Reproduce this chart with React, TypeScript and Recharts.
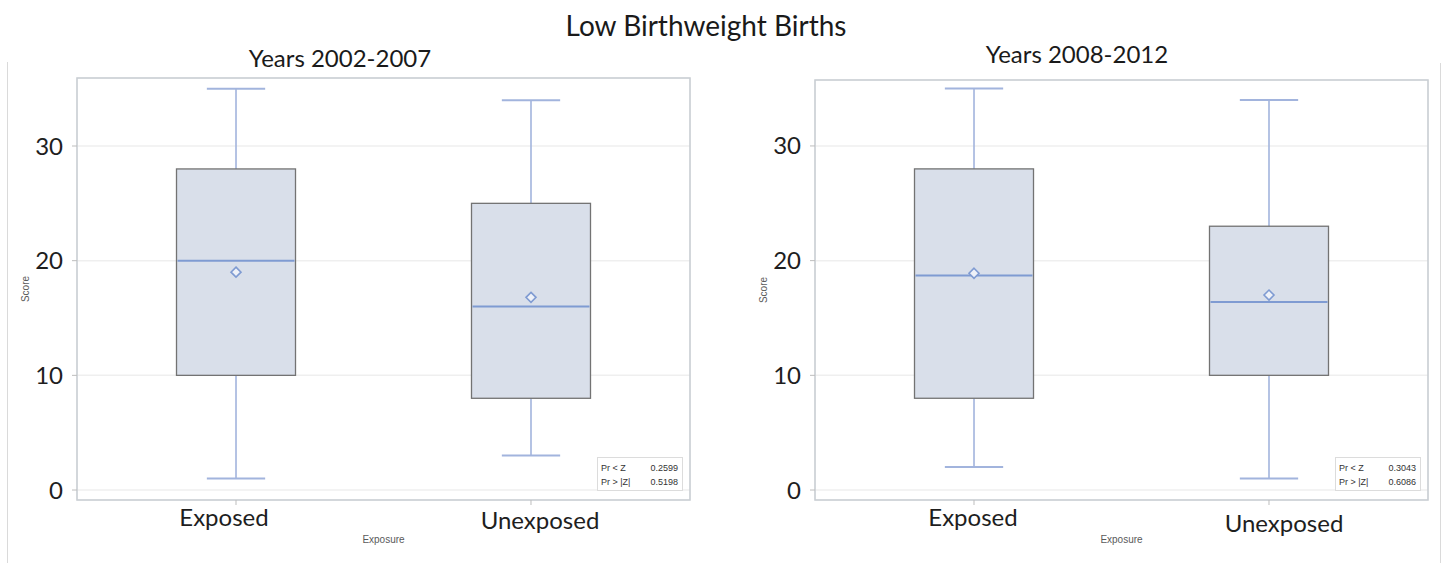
import React from 'react';
import {
  ComposedChart,
  Bar,
  XAxis,
  YAxis,
  CartesianGrid,
  ReferenceArea,
} from 'recharts';

// ---------- data ----------
const categories = ['Exposed', 'Unexposed'];
const yTicks = [0, 10, 20, 30];

// Years 2002-2007
const p1Min = [1, 3];
const p1Q1 = [10, 8];
const p1Median = [20, 16];
const p1Q3 = [28, 25];
const p1Max = [35, 34];
const p1Mean = [19, 16.8];
const p1Stats = [
  ['Pr < Z', '0.2599'],
  ['Pr > |Z|', '0.5198'],
];

// Years 2008-2012
const p2Min = [2, 1];
const p2Q1 = [8, 10];
const p2Median = [18.7, 16.4];
const p2Q3 = [28, 23];
const p2Max = [35, 34];
const p2Mean = [18.9, 17];
const p2Stats = [
  ['Pr < Z', '0.3043'],
  ['Pr > |Z|', '0.6086'],
];

const buildRows = (
  mins: number[],
  q1s: number[],
  meds: number[],
  q3s: number[],
  maxs: number[],
  means: number[]
) =>
  categories.map((name, i) => ({
    pos: i,
    name,
    range: [mins[i], maxs[i]],
    min: mins[i],
    q1: q1s[i],
    median: meds[i],
    q3: q3s[i],
    max: maxs[i],
    mean: means[i],
  }));

const rows1 = buildRows(p1Min, p1Q1, p1Median, p1Q3, p1Max, p1Mean);
const rows2 = buildRows(p2Min, p2Q1, p2Median, p2Q3, p2Max, p2Mean);

// ---------- styles ----------
const BOX_FILL = '#d9dfea';
const BOX_STROKE = '#737373';
const MEDIAN = '#7f9bd2';
const WHISKER = '#a2b4dd';
const FRAME = '#c9ced3';
const GRID = '#efefef';
const SANS = 'Lato, "Open Sans", sans-serif';
const SAS = '"Liberation Sans", Arial, sans-serif';

const BoxShape = (props: any) => {
  const { x, y, width, height, payload } = props;
  const lo = payload.min;
  const hi = payload.max;
  const py = (v: number) => y + (height * (hi - v)) / (hi - lo);
  const cx = x + width / 2;
  const cap = width * 0.245;
  const yMax = py(payload.max);
  const yMin = py(payload.min);
  const yQ1 = py(payload.q1);
  const yQ3 = py(payload.q3);
  const yMed = py(payload.median);
  const yMean = py(payload.mean);
  const d = 5;
  return (
    <g>
      <line x1={cx} x2={cx} y1={yMax} y2={yQ3} stroke={WHISKER} strokeWidth={1.6} />
      <line x1={cx} x2={cx} y1={yQ1} y2={yMin} stroke={WHISKER} strokeWidth={1.6} />
      <line x1={cx - cap} x2={cx + cap} y1={yMax} y2={yMax} stroke={WHISKER} strokeWidth={2} />
      <line x1={cx - cap} x2={cx + cap} y1={yMin} y2={yMin} stroke={WHISKER} strokeWidth={2} />
      <rect
        x={x}
        y={yQ3}
        width={width}
        height={yQ1 - yQ3}
        fill={BOX_FILL}
        stroke={BOX_STROKE}
        strokeWidth={1.3}
      />
      <line x1={x + 1} x2={x + width - 1} y1={yMed} y2={yMed} stroke={MEDIAN} strokeWidth={2} />
      <polygon
        points={`${cx},${yMean - d} ${cx + d},${yMean} ${cx},${yMean + d} ${cx - d},${yMean}`}
        fill="#eef1f8"
        stroke={MEDIAN}
        strokeWidth={1.6}
      />
    </g>
  );
};

const makeXTick = (offsets: { dx: number; dy: number }[]) => (props: any) => {
  const { x, y, payload } = props;
  const i = payload.value as number;
  const o = offsets[i] || { dx: 0, dy: 0 };
  return (
    <text
      x={x + o.dx}
      y={y + o.dy}
      textAnchor="middle"
      dominantBaseline="central"
      fontSize={24}
      fontFamily={SANS}
      fill="#1e1e1e"
    >
      {categories[i]}
    </text>
  );
};

const scoreLabel = (props: any) => {
  const vb = props.viewBox || { x: 0, y: 0, width: 0, height: 0 };
  const cx = vb.x - 12;
  const cy = vb.y + vb.height / 2;
  return (
    <text
      x={cx}
      y={cy}
      transform={`rotate(-90 ${cx} ${cy})`}
      textAnchor="middle"
      dominantBaseline="central"
      fontSize={10}
      fontFamily={SAS}
      fill="#5a5a5a"
    >
      Score
    </text>
  );
};

type PanelProps = {
  rows: any[];
  yDomain: [number, number];
  margin: { top: number; right: number; bottom: number; left: number };
  width: number;
  tickOffsets: { dx: number; dy: number }[];
};

const Panel = ({ rows, yDomain, margin, width, tickOffsets }: PanelProps) => (
  <ComposedChart width={width} height={563} data={rows} margin={margin}>
    <CartesianGrid vertical={false} stroke={GRID} strokeWidth={1.5} />
    <ReferenceArea
      y1={yDomain[0]}
      y2={yDomain[1]}
      fill="none"
      stroke={FRAME}
      strokeWidth={1.6}
      ifOverflow="visible"
    />
    <XAxis
      type="number"
      dataKey="pos"
      domain={[-0.539, 1.539]}
      ticks={[0, 1]}
      allowDataOverflow
      height={30}
      axisLine={false}
      tickSize={5}
      tickLine={{ stroke: '#bdbdbd' }}
      tick={makeXTick(tickOffsets)}
      label={{
        value: 'Exposure',
        position: 'bottom',
        offset: 6,
        fontSize: 10,
        fontFamily: SAS,
        fill: '#5a5a5a',
      }}
    />
    <YAxis
      type="number"
      domain={yDomain}
      ticks={yTicks}
      allowDataOverflow
      width={40}
      axisLine={false}
      tickSize={5}
      tickMargin={9}
      tickLine={{ stroke: '#bdbdbd' }}
      tick={{ fontSize: 24, fontFamily: SANS, fill: '#1e1e1e' }}
      label={{ content: scoreLabel }}
    />
    <Bar
      dataKey="range"
      barSize={119}
      isAnimationActive={false}
      shape={BoxShape}
      fill={BOX_FILL}
    />
  </ComposedChart>
);

const StatsBox = ({ stats, left, top }: { stats: string[][]; left: number; top: number }) => (
  <div
    style={{
      position: 'absolute',
      left,
      top,
      width: 86,
      height: 34,
      border: '1px solid #dcdcdc',
      background: '#fff',
      boxSizing: 'border-box',
      fontFamily: SAS,
      fontSize: 9,
      color: '#333',
      padding: '3px 4px 0 3px',
      lineHeight: '14px',
    }}
  >
    {stats.map((s, i) => (
      <div key={i} style={{ display: 'flex', justifyContent: 'space-between' }}>
        <span>{s[0]}</span>
        <span>{s[1]}</span>
      </div>
    ))}
  </div>
);

const centered = (x: number, y: number, size: number, text: string) => (
  <div
    style={{
      position: 'absolute',
      left: x,
      top: y,
      transform: 'translate(-50%, -50%)',
      fontFamily: SANS,
      fontSize: size,
      color: '#1a1a1a',
      whiteSpace: 'nowrap',
      lineHeight: 1,
    }}
  >
    {text}
  </div>
);

export default function App() {
  return (
    <div
      style={{
        position: 'fixed',
        left: 0,
        top: 0,
        width: 1448,
        height: 563,
        background: '#fff',
        overflow: 'hidden',
      }}
    >
      <div style={{ position: 'absolute', left: 7, top: 62, width: 1, height: 501, background: '#dadada' }} />
      <div style={{ position: 'absolute', left: 1440, top: 63, width: 1, height: 500, background: '#dadada' }} />

      <div style={{ position: 'absolute', left: 0, top: 0 }}>
        <Panel
          rows={rows1}
          yDomain={[-0.87, 35.93]}
          width={720}
          margin={{ top: 78, right: 30, bottom: 33, left: 37 }}
          tickOffsets={[
            { dx: -12, dy: 9 },
            { dx: 9, dy: 12 },
          ]}
        />
      </div>
      <div style={{ position: 'absolute', left: 720, top: 0 }}>
        <Panel
          rows={rows2}
          yDomain={[-0.87, 35.75]}
          width={728}
          margin={{ top: 80, right: 20, bottom: 33, left: 55 }}
          tickOffsets={[
            { dx: -1, dy: 9 },
            { dx: 15, dy: 15 },
          ]}
        />
      </div>

      <StatsBox stats={p1Stats} left={597} top={457} />
      <StatsBox stats={p2Stats} left={1335} top={457} />

      {centered(706, 25, 28, 'Low Birthweight Births')}
      {centered(340, 58, 24, 'Years 2002-2007')}
      {centered(1077, 54, 24, 'Years 2008-2012')}
    </div>
  );
}
